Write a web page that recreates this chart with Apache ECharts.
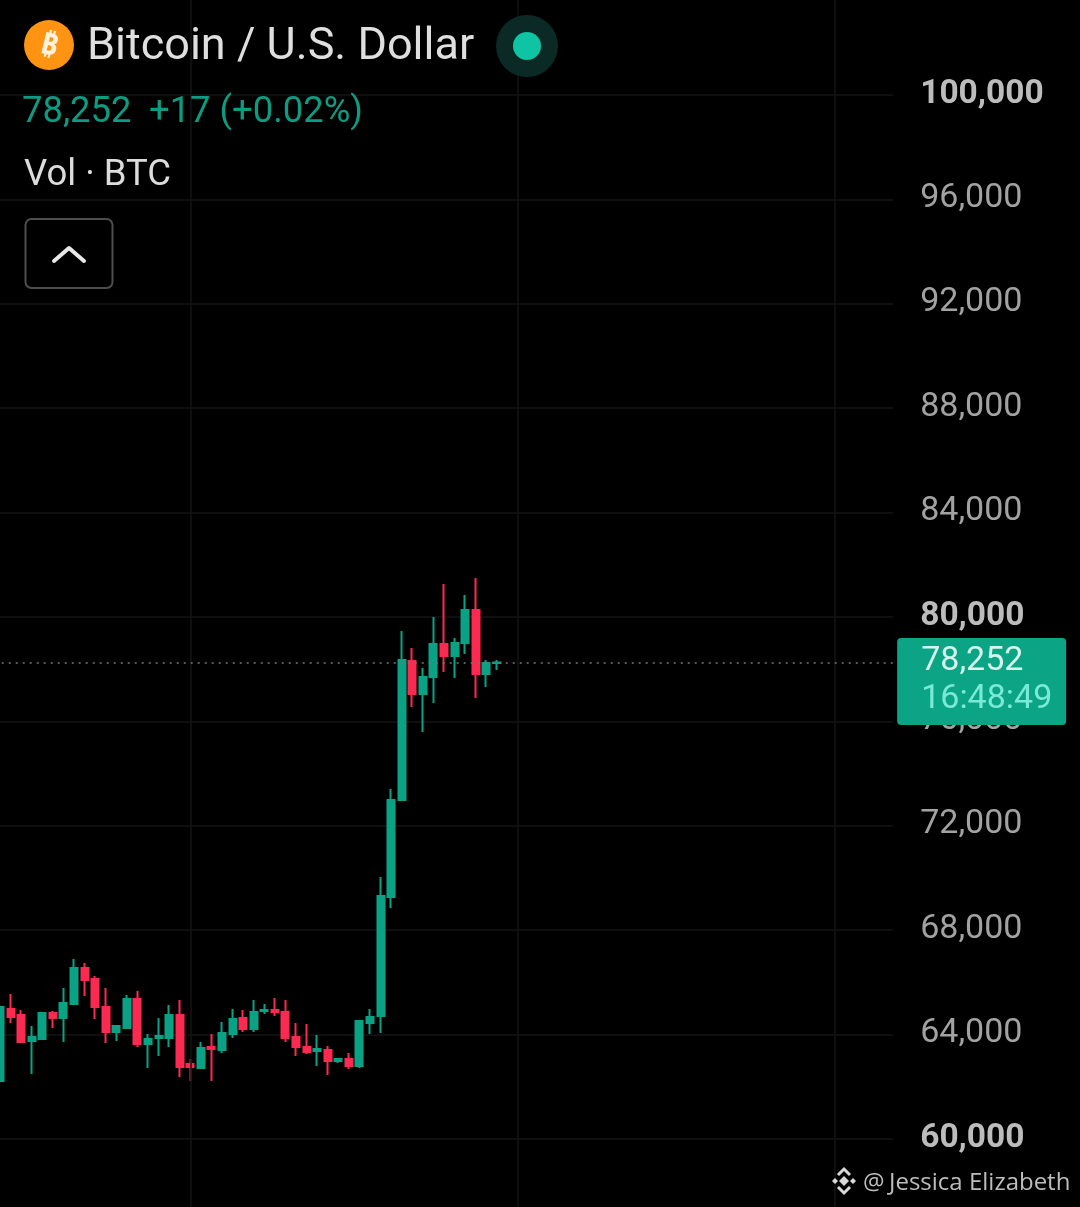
<!DOCTYPE html>
<html><head><meta charset="utf-8">
<style>html,body{margin:0;padding:0;background:#000}#c{width:1080px;height:1207px}</style>
<script src="https://cdn.jsdelivr.net/npm/echarts@6/dist/echarts.min.js"></script>
</head><body><div id="c"></div>
<script>
const opens  = [62222,64980,64750,63754,63831,64827,64636,65172,66551,66130,65057,64099,64252,65363,63639,63869,63869,64750,62873,62720,63525,63410,64023,64636,64214,64904,64942,64865,63908,63525,63371,63410,62988,63065,62797,64444,64712,69271,72987,78312,77048,77699,78963,78504,79002,80266,77814,78235];
const closes = [65057,64674,63716,63908,64827,64636,65210,66551,66091,65057,64099,64329,65363,63639,63831,63946,64750,62758,62758,63486,63448,64061,64597,64214,64865,64942,64865,63869,63525,63333,63448,62988,63065,62797,64521,64674,69309,72987,78350,77048,77699,78963,78504,79002,80266,77814,78235,78252];
const lows   = [62222,64444,63678,62490,63800,64252,63716,65134,65478,64597,63678,63754,64214,63525,62720,63180,63525,62375,62222,62682,62222,63295,63869,64099,64099,64789,64712,63716,63180,63256,62797,62452,62912,62682,62720,64023,64061,68850,72950,76550,75592,76703,77891,77661,78580,76895,77316,77967];
const highs  = [65057,65555,64942,64329,64860,64904,65785,66896,66743,66245,65785,64367,65517,65670,64023,64636,65134,65325,63065,63716,64023,64482,64980,64942,65325,65172,65402,65325,64444,64406,63984,63563,63105,63295,64559,64980,70037,73409,79461,78810,78044,79998,81262,79193,80841,81492,78350,78350];
const slotCount = 85;
const categories = Array.from({length: slotCount}, (_, i) => String(i));
const monthLines = [18, 49, 79];
const lastPrice = 78252;
const countdown = '16:48:49';
const boldTicks = [100000, 80000, 60000];
const candles = opens.map((o, i) => [o, closes[i], lows[i], highs[i]]);
const fmt = v => Number(v).toLocaleString('en-US');

const UP = '#0aa285', DOWN = '#fb2a50', GRID = '#141414';
const slot = 10.57, gridLeft = -slot / 2, gridWidth = slot * slotCount;
const font = 'Roboto';

const chart = echarts.init(document.getElementById('c'), null, {renderer: 'canvas'});
chart.setOption({
  animation: false,
  backgroundColor: '#000',
  grid: [
    {left: gridLeft, width: gridWidth, top: 95, height: 1044, outerBoundsMode: 'none'},
    {left: gridLeft, width: gridWidth, top: 0, height: 1207, outerBoundsMode: 'none'}
  ],
  xAxis: [
    {type: 'category', gridIndex: 0, data: categories, show: false},
    {type: 'category', gridIndex: 1, data: categories, show: false}
  ],
  yAxis: [
    {type: 'value', gridIndex: 0, position: 'right', min: 60000, max: 100000, interval: 4000,
     axisLine: {show: false}, axisTick: {show: false},
     splitLine: {show: true, lineStyle: {color: GRID, width: 1.5}},
     axisLabel: {margin: 27, align: 'left',
       formatter: v => boldTicks.includes(v) ? '{b|' + fmt(v) + '}' : '{n|' + fmt(v) + '}',
       rich: {
         b: {fontFamily: font, fontSize: 33.5, fontWeight: 'bold', color: '#bcbcbc'},
         n: {fontFamily: font, fontSize: 34, color: '#a2a2a2', padding: [0, 0, 2, 0]}
       }}},
    {type: 'value', gridIndex: 1, min: 0, max: 1, show: false}
  ],
  series: [
    {type: 'line', xAxisIndex: 1, yAxisIndex: 1, data: [], silent: true, z: 1,
     markLine: {silent: true, symbol: 'none', animation: false, label: {show: false},
       lineStyle: {color: GRID, width: 1.5, type: 'solid'},
       data: monthLines.map(i => ({xAxis: i}))}},
    {type: 'candlestick', xAxisIndex: 0, yAxisIndex: 0, data: candles, barWidth: 7.5, z: 3,
     itemStyle: {color: UP, color0: DOWN, borderColor: UP, borderColor0: DOWN, borderWidth: 2},
     markLine: {silent: true, symbol: 'none', animation: false, z: 10,
       lineStyle: {color: '#6a7c76', width: 1.5, type: [2, 5]},
       label: {show: true, position: 'end', distance: 4, offset: [0, 19],
         formatter: '{p|' + fmt(lastPrice) + '}\n{t|' + countdown + '}',
         backgroundColor: '#0ba585', borderRadius: 4, padding: [0, 15, 0, 24],
         align: 'left', verticalAlign: 'middle', width: 130, height: 87,
         rich: {
           p: {fontFamily: font, fontSize: 34, color: '#d6f5ec', lineHeight: 40, width: 130, padding: [6, 0, 0, 0]},
           t: {fontFamily: font, fontSize: 34, color: '#7aead6', lineHeight: 40, width: 130, padding: [3, 0, 0, 0]}
         }},
       data: [{yAxis: lastPrice}]}}
  ],
  graphic: {elements: [
    {type: 'circle', shape: {cx: 49, cy: 45, r: 25}, style: {fill: '#ff9312'}, z: 20},
    {type: 'text', x: 49, y: 46, rotation: -0.24, z: 21,
     style: {text: '₿', x: 0, y: 0, align: 'center', verticalAlign: 'middle', font: 'bold 30px "Noto Sans"', fill: '#fff2dc'}},
    {type: 'text', z: 21, style: {text: 'Bitcoin / U.S. Dollar', x: 87, y: 48, verticalAlign: 'middle', font: '45px Roboto', fill: '#dfdfdf'}},
    {type: 'circle', shape: {cx: 527, cy: 46, r: 31}, style: {fill: '#0b2a26'}, z: 20},
    {type: 'circle', shape: {cx: 527, cy: 46, r: 14}, style: {fill: '#0fc4a3'}, z: 21},
    {type: 'text', z: 21, style: {text: '78,252', x: 22, y: 113, verticalAlign: 'middle', font: '36.4px Roboto', fill: '#0a9d82'}},
    {type: 'text', z: 21, style: {text: '+17 (+0.02%)', x: 149, y: 113, verticalAlign: 'middle', font: '36.4px Roboto', fill: '#0a9d82'}},
    {type: 'text', z: 21, style: {text: 'Vol · BTC', x: 24, y: 176, verticalAlign: 'middle', font: '36.5px Roboto', fill: '#dcdcdc'}},
    {type: 'rect', z: 21, shape: {x: 25.5, y: 219, width: 87, height: 69, r: 6}, style: {fill: '#000', stroke: '#4e4e4e', lineWidth: 2}},
    {type: 'polyline', z: 22, shape: {points: [[54, 261], [69, 248], [84, 261]]}, style: {fill: 'none', stroke: '#e8e8e8', lineWidth: 4, lineCap: 'round', lineJoin: 'round'}},
    {type: 'polygon', z: 21, shape: {points: [[844, 1176], [849, 1181], [844, 1186], [839, 1181]]}, style: {fill: '#d8d8d8'}},
    {type: 'polygon', z: 21, shape: {points: [[835, 1178], [838, 1181], [835, 1184], [832, 1181]]}, style: {fill: '#d8d8d8'}},
    {type: 'polygon', z: 21, shape: {points: [[853, 1178], [856, 1181], [853, 1184], [850, 1181]]}, style: {fill: '#d8d8d8'}},
    {type: 'polyline', z: 21, shape: {points: [[838, 1175], [844, 1169], [850, 1175]]}, style: {fill: 'none', stroke: '#d8d8d8', lineWidth: 3}},
    {type: 'polyline', z: 21, shape: {points: [[838, 1187], [844, 1193], [850, 1187]]}, style: {fill: 'none', stroke: '#d8d8d8', lineWidth: 3}},
    {type: 'text', z: 21, style: {text: '@', x: 863, y: 1183, verticalAlign: 'middle', font: '24px "Open Sans"', fill: '#bdbdbd'}},
    {type: 'text', z: 21, style: {text: 'Jessica Elizabeth', x: 889, y: 1183, verticalAlign: 'middle', font: '24px "Open Sans"', fill: '#bdbdbd'}}
  ]}
});
</script></body></html>
